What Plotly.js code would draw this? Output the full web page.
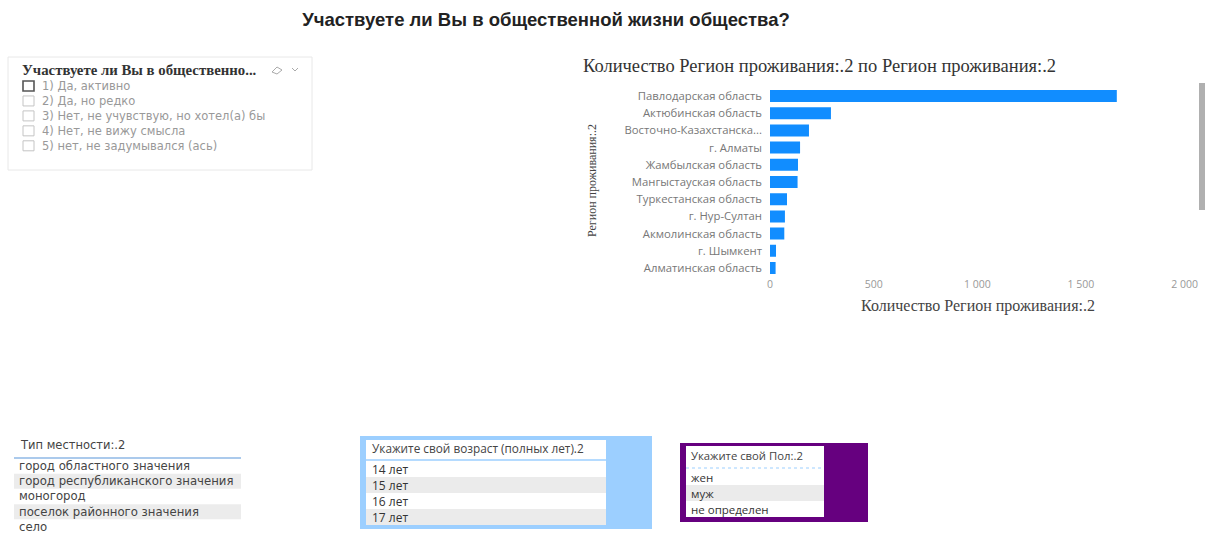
<!DOCTYPE html>
<html>
<head>
<meta charset="utf-8">
<script src="https://cdn.plot.ly/plotly-3.0.1.min.js"></script>
<style>
html,body{margin:0;padding:0;background:#fff;}
#chart{width:1206px;height:535px;}
</style>
</head>
<body>
<div id="chart"></div>
<script>
// ---- data ----
const pageTitle = "Участвуете ли Вы в общественной жизни общества?";
const regions = ["Павлодарская область","Актюбинская область","Восточно-Казахстанская область","г. Алматы","Жамбылская область","Мангыстауская область","Туркестанская область","г. Нур-Султан","Акмолинская область","г. Шымкент","Алматинская область"];
const regionLabels = ["Павлодарская область","Актюбинская область","Восточно-Казахстанска...","г. Алматы","Жамбылская область","Мангыстауская область","Туркестанская область","г. Нур-Султан","Акмолинская область","г. Шымкент","Алматинская область"];
const regionCounts = [1673,294,188,145,135,133,82,72,69,29,27];
const xTicks = [0,500,1000,1500,2000];
const chartTitle = "Количество Регион проживания:.2 по Регион проживания:.2";
const xTitle = "Количество Регион проживания:.2";
const yTitle = "Регион проживания:.2";

const slicerTitle = "Участвуете ли Вы в общественно...";
const slicerItems = ["1) Да, активно","2) Да, но редко","3) Нет, не учувствую, но хотел(а) бы","4) Нет, не вижу смысла","5) нет, не задумывался (ась)"];

const areaTitle = "Тип местности:.2";
const areaItems = ["город областного значения","город республиканского значения","моногород","поселок районного значения","село"];

const ageTitle = "Укажите свой возраст (полных лет).2";
const ageItems = ["14 лет","15 лет","16 лет","17 лет"];

const sexTitle = "Укажите свой Пол:.2";
const sexItems = ["жен","муж","не определен"];

// ---- helpers (pixel -> paper) ----
const W = 1206, H = 535;
const X = p => p / W;
const Y = p => 1 - p / H;
const shapes = [];
const ann = [];
function rect(x0,y0,x1,y1,fill,line,lw){
  shapes.push({type:'rect',xref:'paper',yref:'paper',x0:X(x0),x1:X(x1),y0:Y(y1),y1:Y(y0),
    fillcolor:fill||'rgba(0,0,0,0)',line:{color:line||'rgba(0,0,0,0)',width:lw||0},layer:'below'});
}
function hline(x0,x1,y,color,w,dash){
  shapes.push({type:'line',xref:'paper',yref:'paper',x0:X(x0),x1:X(x1),y0:Y(y),y1:Y(y),line:{color:color,width:w||1,dash:dash||'solid'}});
}
function text(t,x,y,opts){
  opts=opts||{};
  ann.push({text:t,xref:'paper',yref:'paper',x:X(x),y:Y(y),xanchor:opts.xanchor||'left',yanchor:'middle',
    align:'left',showarrow:false,textangle:opts.angle||0,borderpad:0,
    font:{family:opts.family||'"Open Sans", "DejaVu Sans", sans-serif',size:opts.size||11,color:opts.color||'#333'}});
}
const SERIF = '"Liberation Serif", "DejaVu Serif", serif';
const SANS = '"Open Sans", "Noto Sans", sans-serif';
const DEJAVU = '"DejaVu Sans", sans-serif';

// ---- top-left slicer ----
rect(8,57,312,170,'#ffffff','#e8e8e8',1);
text('<b>'+slicerTitle+'</b>',21,70,{family:SERIF,size:14.8,color:'#333'});
// eraser & chevron icons
shapes.push({type:'path',xref:'paper',yref:'paper',
  path:`M ${X(272)} ${Y(72)} L ${X(277)} ${Y(67)} L ${X(282)} ${Y(70)} L ${X(277)} ${Y(74)} Z`,
  line:{color:'#aaa',width:1},fillcolor:'rgba(0,0,0,0)'});
shapes.push({type:'path',xref:'paper',yref:'paper',
  path:`M ${X(292)} ${Y(68)} L ${X(295)} ${Y(71)} L ${X(298)} ${Y(68)}`,
  line:{color:'#aaa',width:1}});
const sFont = 11.5, sStep = sFont*1.3, sTop = 86;
slicerItems.forEach((s,i)=>{
  const cy = sTop + i*sStep;
  if(i===0) rect(23,cy-5,34,cy+5,'#ffffff','#555',1.6);
  else rect(23,cy-5,34,cy+5,'#ffffff','#c4c4c4',1);
});
text(slicerItems.join('<br>'),41,sTop+(slicerItems.length-1)*sStep/2,{family:DEJAVU,size:sFont,color:'#999'});

// ---- bar chart decorations ----
text(chartTitle,582,66,{family:SERIF,size:18.5,color:'#333'});
text(yTitle,592,181,{family:SERIF,size:12,color:'#444',angle:-90,xanchor:'center'});
text(xTitle,978,306,{family:SERIF,size:16,color:'#444',xanchor:'center'});
// scrollbar
rect(1199,83,1205,210,'#b0b0b0','#a0a0a0',0);

// ---- bottom left slicer: area type ----
text(areaTitle,19,445,{family:DEJAVU,size:11.5,color:'#444'});
hline(14,241,458,'#8fb8e6',1.5);
const aFont = 11.7, aStep = aFont*1.3, aTop = 466;
areaItems.forEach((s,i)=>{
  const cy = aTop + i*aStep;
  if(i%2===1) rect(14,cy-7.5,241,cy+7.5,'#ececec');
});
text(areaItems.join('<br>'),18,aTop+(areaItems.length-1)*aStep/2,{family:DEJAVU,size:aFont,color:'#444'});

// ---- age table ----
rect(360,436,652,529,'#9ccfff');
rect(366,440,606,525,'#ffffff');
text(ageTitle,371,448,{family:SANS,size:11.8,color:'#444'});
hline(366,606,460,'#9ccfff',1.5);
ageItems.forEach((s,i)=>{
  const cy = 469 + i*16;
  if(i%2===1) rect(366,cy-8,606,cy+8,'#ebebeb');
  text(s,371,cy,{family:SANS,size:12,color:'#333'});
});

// ---- sex table ----
rect(680,443,868,522,'#66007f');
rect(686,446,824,517,'#ffffff');
text(sexTitle,690,455,{family:SANS,size:11.3,color:'#444'});
hline(686,824,468,'#9ccfff',1,'dot');
sexItems.forEach((s,i)=>{
  const cy = 477 + i*16;
  if(i%2===1) rect(686,cy-8,824,cy+8,'#ebebeb');
  text(s,690,cy,{family:SANS,size:11.5,color:'#333'});
});

const trace = {
  type:'bar', orientation:'h',
  x: regionCounts, y: regions,
  marker:{color:'#118dff'},
  width:0.7,
  hoverinfo:'x+y'
};

const layout = {
  width:W, height:H,
  margin:{l:0,r:0,t:0,b:0},
  paper_bgcolor:'#ffffff', plot_bgcolor:'rgba(0,0,0,0)',
  separators:', ',
  showlegend:false,
  title:{text:'<b>'+pageTitle+'</b>', x:X(546), xanchor:'center', y:Y(20), yanchor:'middle',
    font:{family:'"Liberation Sans", Arial, sans-serif', size:18.5, color:'#222'}},
  xaxis:{domain:[X(770),X(1184.6)], range:[0,2000], tickvals:xTicks, tickformat:',', showgrid:false,
    zeroline:false, showline:false, ticks:'', anchor:'y',
    tickfont:{family:SANS,size:10.5,color:'#999'}, fixedrange:true},
  yaxis:{domain:[Y(276.6),Y(87.4)], type:'category', autorange:'reversed', showgrid:false,
    zeroline:false, showline:false, ticks:'', tickvals:regions, ticktext:regionLabels,
    tickfont:{family:SANS,size:11.3,color:'#777'}, ticklabelstandoff:7, fixedrange:true},
  shapes:shapes, annotations:ann
};

Plotly.newPlot('chart',[trace],layout,{displayModeBar:false,staticPlot:true});
</script>
</body>
</html>
